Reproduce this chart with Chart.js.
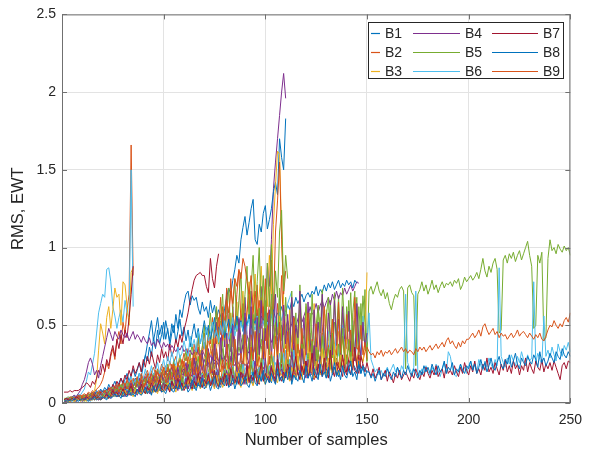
<!DOCTYPE html>
<html><head><meta charset="utf-8">
<script src="https://cdn.jsdelivr.net/npm/chart.js@4.4.1/dist/chart.umd.min.js"></script>
<style>html,body{margin:0;padding:0;background:#fff;}</style>
</head><body>
<canvas id="c" width="591" height="454"></canvas>
<script>
// Axis ticks and titles
const xTicks = [0, 50, 100, 150, 200, 250];
const yTicks = [0, 0.5, 1, 1.5, 2, 2.5];
const xTitle = 'Number of samples';
const yTitle = 'RMS, EWT';
const legendNames = ['B1', 'B2', 'B3', 'B4', 'B5', 'B6', 'B7', 'B8', 'B9'];

// Each series starts at sample 1, one value per sample
const b1 = [.02,.03,.02,.03,.03,.02,.04,.03,.03,.04, .04,.03,.05,.04,.05,.06,.04,.05,.07,.06,
 .05,.07,.06,.08,.07,.06,.09,.08,.10,.09, .08,.11,.10,.13,.11,.16,.14,.19,.17,.24,
 .30,.38,.45,.53,.40,.47,.55,.44,.50,.41, .53,.46,.40,.51,.45,.57,.48,.60,.55,.64,
 .70,.72,.63,.69,.66,.68,.61,.57,.65,.59, .62,.55,.66,.58,.63,.54,.60,.56,.52,.61,
 .68,.74,.70,.79,.86,.95,.90,1.05,1.13,1.20, 1.08,1.16,1.25,1.31,1.05,1.02,1.15,1.10,1.22,1.27,
 1.12,1.18,1.25,1.36,1.42,1.34,1.70,1.58,1.50,1.83];
const b2 = [.02,.03,.02,.03,.04,.03,.04,.05,.04,.05, .06,.05,.07,.06,.08,.07,.09,.10,.12,.15,
 .20,.26,.22,.30,.35,.28,.40,.46,.38,.52, .45,.60,.70,1.66,.82];
const b3 = [.01,.02,.01,.02,.02,.03,.02,.03,.03,.02, .03,.04,.03,.04,.05,.04,.06,.05,.04,.06,
 .05,.07,.06,.08,.06,.09,.07,.10,.08,.11, .09,.12,.10,.08,.13,.11,.14,.10,.15,.12,
 .13,.16,.11,.17,.14,.18,.12,.19,.15,.17, .20,.14,.22,.17,.19,.24,.16,.21,.26,.18,
 .23,.28,.20,.25,.31,.22,.27,.34,.24,.29, .37,.26,.32,.41,.28,.35,.46,.30,.39,.52,
 .33,.44,.58,.36,.49,.65,.40,.55,.72,.45, .60,.78,.48,.66,.83,.52,.70,.88,.56,.75,
 .62,.95,.70,1.15,1.40,1.62,1.60,1.10,.65,.48];
const b4 = [.02,.02,.03,.02,.03,.04,.03,.03,.04,.03, .04,.05,.04,.05,.06,.05,.04,.06,.05,.07,
 .06,.05,.07,.08,.06,.09,.07,.08,.10,.08, .09,.11,.08,.12,.10,.09,.13,.11,.14,.10,
 .12,.15,.11,.14,.17,.12,.16,.13,.18,.15, .13,.19,.16,.14,.21,.17,.15,.22,.18,.20,
 .16,.24,.19,.22,.17,.26,.20,.28,.23,.19, .31,.24,.21,.35,.27,.52,.40,.30,.58,.36,
 .73,.45,.33,.62,.38,.30,.55,.42,.35,.68, .44,.37,.72,.48,.33,.60,.41,.75,.52,.48,
 .90,.75,1.05,1.38,1.55,1.70,1.85,2.00,2.12,1.96];
const b5 = [.03,.03,.04,.03,.04,.04,.03,.05,.04,.04, .05,.04,.05,.06,.05,.04,.06,.05,.07,.06,
 .06,.08,.07,.09,.08,.10,.09,.11,.08,.10, .12,.10,.09,.12,.11,.13,.10,.12,.14,.11,
 .13,.15,.12,.16,.14,.12,.17,.15,.18,.14, .16,.19,.15,.20,.17,.22,.18,.16,.21,.19,
 .23,.18,.25,.20,.22,.27,.21,.24,.30,.22, .26,.31,.24,.28,.22,.33,.27,.25,.35,.28,
 .30,.38,.26,.33,.41,.29,.36,.31,.44,.33, .28,.39,.47,.32,.37,.52,.30,.41,.35,.56,
 .38,.48,.62,.36,.55,.44,.70,.40,.51,.45, .33,.47,.39,.55,.31,.48,.60,.36,.44,.52,
 .34,.58,.41,.29,.50,.63,.37,.45,.32,.57, .40,.66,.30,.52,.43,.69,.35,.58,.28,.62,
 .46,.71,.33,.55,.68,.30,.64,.40,.73,.27, .72,.75,.70,.74,.78,.72,.69,.73,.67,.71,
 .64,.60,.66,.70,.68,.73,.75,.72,.22,.74, .76,.71,.69,.24,.70,.73,.78,.72,.76,.70,
 .74,.79,.73,.76,.71,.75,.78,.74,.77,.76, .78,.75,.79,.77,.80,.73,.76,.81,.78,.80,
 .82,.79,.81,.84,.80,.86,.93,.85,.81,.88, .84,.90,.93,.86,.45,.47,.92,.95,.90,.96,
 .93,.97,.91,.95,.98,.92,.96,1.00,1.04,.95, .88,.48,.50,.95,.90,.97,.40,.42,.93,1.05,
 .98,1.00,.96,1.02,.99,.97,1.01,.98,1.00,.95];
const b6 = [.02,.03,.02,.02,.03,.02,.04,.03,.02,.03, .04,.02,.03,.05,.03,.04,.03,.06,.04,.05,
 .03,.06,.05,.04,.07,.05,.08,.06,.05,.09, .06,.08,.07,.10,.06,.09,.08,.07,.11,.08,
 .10,.07,.12,.09,.11,.08,.13,.10,.09,.14, .11,.10,.15,.12,.09,.13,.16,.11,.12,.10,
 .17,.13,.11,.15,.18,.12,.14,.13,.19,.12, .15,.20,.14,.13,.17,.21,.14,.16,.15,.22,
 .16,.14,.23,.17,.19,.15,.24,.18,.16,.21, .25,.17,.20,.18,.27,.16,.22,.19,.28,.20,
 .24,.30,.19,.22,.26,.21,.32,.23,.20,.34, .24,.28,.22,.36,.25,.23,.31,.38,.24,.27,
 .40,.26,.33,.25,.42,.28,.24,.44,.30,.27, .46,.29,.35,.26,.48,.31,.28,.50,.33,.30,
 .35,.30,.53,.27,.38,.45,.31,.56,.34,.40, .58,.28,.24,.20,.22,.18,.21,.17,.20,.23,
 .19,.22,.25,.20,.23,.18,.24,.21,.70,.26, .22,.19,.23,.72,.20,.17,.22,.19,.24,.20,
 .18,.23,.20,.25,.21,.17,.22,.26,.19,.33, .30,.22,.18,.17,.21,.25,.20,.23,.19,.24,
 .27,.22,.26,.20,.28,.24,.21,.27,.23,.29, .25,.22,.28,.24,.87,.30,.26,.23,.29,.25,
 .31,.27,.24,.30,.26,.33,.28,.25,.31,.27, .29,.78,.26,.32,.28,.25,.56,.30,.34,.29,
 .36,.31,.27,.38,.33,.30,.37,.34,.39,.33];
const b7 = [.01,.02,.02,.01,.03,.02,.02,.03,.02,.04, .02,.03,.02,.04,.03,.05,.03,.02,.04,.03,
 .05,.04,.03,.06,.05,.04,.07,.05,.06,.04, .08,.06,.05,.09,.06,.08,.07,.10,.06,.09,
 .07,.11,.08,.06,.10,.12,.08,.09,.07,.13, .09,.11,.08,.14,.10,.12,.09,.15,.11,.10,
 .13,.09,.16,.11,.14,.10,.12,.17,.11,.13, .10,.18,.12,.15,.11,.14,.19,.12,.13,.16,
 .11,.20,.14,.12,.17,.13,.21,.15,.12,.18, .14,.22,.13,.16,.19,.14,.12,.23,.15,.17,
 .20,.14,.24,.16,.13,.19,.17,.25,.15,.18, .22,.16,.14,.26,.17,.20,.15,.23,.18,.27,
 .16,.21,.19,.15,.28,.18,.22,.17,.25,.20, .16,.29,.19,.23,.18,.26,.21,.17,.30,.20,
 .24,.18,.27,.21,.19,.31,.22,.25,.20,.26, .20,.17,.22,.16,.19,.23,.15,.18,.21,.14,
 .20,.17,.13,.19,.16,.21,.15,.18,.20,.17, .14,.19,.16,.22,.18,.15,.20,.17,.23,.19,
 .16,.21,.18,.24,.17,.20,.22,.16,.25,.19, .21,.18,.24,.20,.17,.23,.19,.26,.21,.18,
 .24,.20,.27,.19,.22,.18,.25,.21,.29,.20, .23,.19,.26,.22,.18,.25,.21,.28,.20,.24,
 .19,.27,.22,.25,.18,.24,.21,.29,.20,.26, .22,.19,.27,.23,.21,.28,.20,.25,.22,.26,
 .21,.27,.23,.19,.15,.24,.26,.22,.27,.26];
const b8 = [.02,.01,.03,.02,.02,.03,.01,.02,.04,.02, .03,.05,.02,.04,.03,.02,.05,.04,.03,.06,
 .04,.03,.05,.07,.04,.06,.05,.08,.05,.04, .07,.06,.09,.05,.07,.10,.06,.08,.07,.11,
 .08,.06,.10,.09,.12,.07,.09,.13,.08,.10, .14,.09,.11,.08,.12,.15,.10,.09,.13,.11,
 .16,.10,.12,.14,.09,.17,.11,.13,.10,.15, .12,.18,.11,.14,.13,.19,.12,.10,.16,.14,
 .20,.13,.11,.17,.15,.12,.21,.14,.16,.13, .18,.22,.15,.12,.19,.16,.23,.14,.17,.15,
 .24,.16,.13,.20,.18,.25,.15,.17,.14,.22, .19,.26,.16,.18,.15,.23,.20,.17,.27,.19,
 .16,.24,.21,.18,.28,.17,.22,.19,.25,.16, .21,.29,.18,.23,.20,.17,.26,.22,.19,.30,
 .21,.18,.25,.23,.20,.27,.19,.24,.22,.20, .20,.16,.19,.14,.18,.21,.15,.19,.17,.22,
 .18,.15,.20,.17,.23,.19,.16,.21,.18,.24, .20,.17,.22,.19,.16,.21,.18,.24,.20,.23,
 .19,.25,.21,.18,.24,.20,.22,.27,.19,.23, .21,.26,.18,.22,.20,.25,.21,.19,.24,.22,
 .27,.21,.25,.19,.23,.28,.22,.26,.20,.24, .29,.23,.21,.26,.30,.24,.22,.28,.25,.31,
 .23,.27,.32,.25,.22,.29,.26,.24,.30,.27, .25,.31,.28,.23,.33,.26,.29,.24,.27,.32,
 .29,.26,.33,.30,.28,.35,.31,.29,.33,.30];
const b9 = [.02,.03,.02,.02,.04,.03,.02,.03,.05,.03, .04,.02,.03,.05,.04,.03,.06,.04,.05,.03,
 .06,.04,.07,.05,.09,.06,.05,.08,.06,.10, .07,.05,.09,.12,.07,.08,.06,.11,.09,.07,
 .13,.08,.10,.07,.12,.15,.09,.11,.08,.14, .10,.16,.09,.12,.11,.18,.10,.13,.17,.11,
 .14,.10,.19,.13,.12,.16,.21,.12,.15,.13, .18,.14,.22,.12,.17,.15,.20,.13,.24,.16,
 .14,.19,.17,.25,.15,.18,.16,.22,.27,.17, .20,.15,.24,.19,.17,.28,.18,.21,.16,.26,
 .19,.30,.18,.22,.20,.25,.17,.29,.21,.19, .32,.20,.24,.18,.27,.22,.34,.21,.19,.26,
 .23,.30,.20,.25,.36,.22,.28,.24,.21,.33, .26,.22,.38,.25,.29,.23,.35,.27,.24,.31,
 .28,.40,.26,.30,.25,.37,.29,.27,.33,.36, .33,.31,.32,.29,.33,.31,.34,.30,.33,.32,
 .34,.31,.33,.35,.32,.34,.36,.33,.35,.32, .34,.33,.31,.35,.33,.36,.34,.36,.33,.35,
 .37,.34,.36,.38,.35,.37,.39,.36,.40,.42, .38,.40,.37,.35,.39,.36,.40,.38,.41,.41,
 .43,.45,.42,.44,.47,.43,.49,.51,.47,.44, .46,.48,.44,.46,.42,.45,.43,.44,.41,.43,
 .45,.42,.44,.47,.43,.45,.46,.44,.42,.45, .43,.41,.44,.42,.45,.41,.40,.43,.47,.50,
 .49,.53,.50,.48,.51,.49,.53,.55,.52,.58];

// Unlabelled runs
const runA = [.02,.02,.03,.02,.04,.03,.03,.05,.04,.03, .05,.04,.06,.05,.07,.05,.08,.06,.09,.07,
 .10,.08,.12,.09,.11,.14,.10,.13,.16,.12, .15,.19,.14,.18,.22,.17,.21,.26,.20,.25,
 .31,.27,.36,.30,.42,.35,.47,.38,.44,.52, .41,.48,.37,.45,.50,.39,.46,.54,.43,.49,
 .40,.47,.36,.44,.51,.42,.48,.38,.45,.53, .44,.50,.41,.47,.55,.43,.49,.46,.52,.42,
 .48,.54,.45,.51,.47,.56,.49,.53,.46,.55, .50,.57,.48,.54,.51,.58,.49,.56,.53,.59,
 .52,.57,.55,.60,.54,.58,.56,.62,.57,.59, .63,.60,.66,.62,.68,.64,.67,.70,.65,.69,
 .71,.68,.72,.70,.75,.69,.73,.71,.76,.72, .77,.74,.78,.73,.76,.79,.74,.77,.75,.79,
 .76,.78,.74,.79,.77];
const runB = [.01,.02,.02,.03,.02,.03,.04,.02,.04,.03, .04,.05,.03,.06,.05,.07,.05,.06,.08,.06,
 .07,.09,.07,.10,.08,.11,.09,.12,.10,.13, .11,.09,.14,.12,.10,.15,.13,.16,.11,.14,
 .17,.13,.15,.19,.14,.17,.20,.16,.18,.15, .21,.17,.19,.23,.18,.21,.17,.24,.20,.22,
 .19,.25,.21,.23,.20,.27,.22,.25,.21,.28, .24,.26,.23,.30,.25,.27,.24,.31,.26,.29,
 .33,.27,.30,.28,.35,.29,.32,.30,.37,.31, .34,.32,.39,.33,.36,.34,.41,.35,.38,.43,
 .37,.45,.39,.42,.48,.40,.46,.50,.44,.48, .53,.47,.51,.56,.49,.54,.58,.52,.56,.60,
 .55,.62,.57,.59,.64,.58,.63,.66,.61,.65, .68,.63,.70,.66,.72,.67,.71,.69,.74,.70,
 .73,.76,.72,.75,.78,.77];
const runC = [.02,.03,.03,.04,.03,.05,.04,.06,.05,.07, .09,.14,.20,.18,.25,.32,.45,.58,.64,.70,
 .68,.86,.87,.78,.62,.56,.48,.55,.60,.52, .66,.58,.55,1.50,.62];
const runD = [.01,.02,.02,.01,.02,.03,.02,.03,.02,.03, .04,.03,.05,.04,.06,.08,.15,.34,.51,.45,
 .38,.55,.62,.48,.60,.74,.68,.70,.50,.78, .76,.62,.50,.84,.87];
const runE = [.07,.07,.07,.08,.07,.08,.08,.08,.09,.10, .11,.13,.12,.10,.14,.12,.16,.21,.18,.25,
 .20,.28,.24,.32,.37,.30,.41,.35,.44,.38, .47,.42,.55,.70,.88];
const runF = [.02,.03,.02,.03,.04,.05,.04,.06,.08,.12, .15,.20,.26,.29,.25,.18,.21,.16,.24,.30,
 .36,.42,.48,.44,.40,.46,.43,.41,.47,.44, .42,.45,.40,.43,.46,.41,.44,.42,.39,.43,
 .40,.38,.42,.37,.39,.36,.41,.38,.35,.39, .36,.38,.34,.37,.35,.33,.36,.34,.37,.33,
 .35,.32,.34,.31,.33,.36,.32,.30,.34,.31, .29,.33,.30,.28,.32,.29,.27,.31,.28,.30,
 .27,.25,.29,.26,.24,.28,.25,.23,.27,.24, .26,.22,.25,.21,.24,.20,.23,.26,.22,.25];
const runG = [.01,.02,.02,.01,.02,.03,.02,.02,.03,.02, .03,.04,.03,.05,.04,.06,.05,.04,.07,.06,
 .08,.06,.10,.08,.12,.09,.14,.11,.16,.13, .18,.15,.21,.17,.24,.19,.22,.26,.20,.28,
 .23,.30,.25,.33,.27,.22,.31,.26,.35,.29, .33,.27,.38,.30,.34,.41,.36,.44,.39,.47,
 .52,.58,.66,.73,.79,.82,.83,.84,.82,.82, .75,.71,.93,.80,.74,.88,.96];
const runH = [.02,.02,.03,.03,.02,.04,.03,.04,.05,.04, .05,.04,.06,.05,.07,.06,.05,.08,.07,.06,
 .08,.07,.09,.10,.08,.11,.09,.12,.10,.13, .11,.14,.12,.10,.15,.13,.16,.12,.17,.14,
 .15,.18,.13,.19,.16,.14,.20,.17,.22,.18, .16,.23,.19,.25,.20,.17,.26,.21,.28,.23,
 .19,.30,.25,.22,.33,.27,.36,.24,.31,.39, .28,.42,.35,.30,.47,.38,.55,.44,.62,.50,
 .66,.58,.72,.64,.80,.75,.86,.80,.93,.88, .78,.70,.82,.60,.72,.55,.66,.48,.62,.40,
 .58,.45,.70,.52,.38,.64,.50,.82,.45,.35, .42,.30];
const runI = [.01,.02,.01,.03,.02,.02,.03,.02,.04,.03, .02,.04,.03,.05,.04,.03,.06,.05,.04,.07,
 .05,.08,.06,.10,.07,.09,.12,.08,.11,.09, .14,.10,.13,.17,.12,.15,.11,.19,.14,.16,
 .22,.15,.18,.24,.17,.21,.26,.19,.23,.28, .21,.30,.25,.33,.27,.24,.36,.29,.32,.40,
 .34,.30,.43,.36,.41,.33,.46,.38,.44,.35, .49,.40,.45,.52,.42,.47,.39,.50,.44,.53,
 .46,.41,.48,.55,.43,.50,.45,.52,.47,.42, .49,.54,.44,.51,.47,.56,.45,.50,.53,.46,
 .52,.48,.57,.50,.55,.49,.58,.53,.60,.56, .64,.68,.72];
const runJ = [.02,.01,.02,.03,.02,.02,.03,.04,.03,.02, .04,.03,.05,.04,.03,.05,.06,.04,.07,.05,
 .06,.08,.05,.09,.07,.10,.06,.11,.08,.12, .09,.13,.10,.08,.14,.11,.15,.12,.10,.16,
 .13,.18,.11,.15,.19,.14,.21,.16,.13,.22, .18,.25,.15,.20,.28,.17,.24,.31,.19,.26,
 .34,.22,.29,.38,.25,.33,.45,.27,.36,.50, .30,.42,.58,.35,.47,.62,.38,.53,.70,.41,
 .57,.74,.44,.61,.80,.46,.66,.84,.49,.70, .88,.52,.74,.95,.55,.78,1.00,.58,.82,.45,
 .90,.62,1.02,.50,.85,.68,1.10,1.24,.72,.95, .80];
const runK = [.01,.01,.02,.01,.02,.02,.01,.03,.02,.02, .03,.02,.03,.04,.03,.02,.04,.03,.05,.04,
 .03,.05,.04,.06,.05,.04,.07,.05,.08,.06, .05,.09,.06,.08,.05,.10,.07,.06,.11,.08,
 .07,.12,.09,.07,.13,.10,.08,.14,.09,.12, .10,.15,.08,.11,.16,.09,.13,.10,.18,.12,
 .11,.20,.13,.10,.16,.22,.12,.14,.11,.24, .15,.12,.19,.26,.13,.17,.14,.28,.16,.13,
 .22,.30,.15,.18,.14,.33,.17,.21,.15,.36, .19,.16,.40,.23,.18,.44,.20,.17,.48,.25,
 .19,.52,.28,.20,.45,.24,.56,.30,.21,.50, .27,.60,.32,.22,.48,.26,.58,.34,.24,.62,
 .30,.45,.26,.64,.36,.28,.55,.33,.25,.60, .38,.26,.52,.35,.30,.46,.28,.41,.33,.25,
 .38,.29,.23,.35,.27,.22,.31,.26,.40,.84];
const runM = [.02,.03,.02,.03,.04,.03,.02,.04,.03,.05, .04,.03,.05,.04,.06,.05,.07,.05,.06,.08,
 .06,.09,.07,.10,.08,.11,.09,.12,.10,.14, .11,.15,.12,.10,.16,.13,.17,.14,.19,.15,
 .18,.21,.16,.20,.23,.18,.22,.19,.25,.21, .24,.20,.27,.22,.26,.30,.23,.28,.25,.32,
 .27,.35,.29,.24,.38,.31,.42,.26,.36,.45, .32,.48,.38,.55,.34,.60,.44,.68,.40,.52,
 .74,.46,.80,.58,.48,.70,.85,.52,.64,.44, .58,.72,.38,.62,.50,.76,.42,.68,.55,.80,
 .48,.66,.92,.60,1.10,1.30,1.55,1.05,.70,.85];
const lowA = [.01,.02,.01,.02,.01,.03,.02,.01,.02,.02, .03,.02,.01,.03,.02,.04,.02,.03,.02,.04,
 .03,.02,.05,.03,.04,.06,.04,.05,.03,.07, .05,.04,.08,.05,.06,.04,.09,.06,.05,.07,
 .10,.06,.08,.05,.11,.07,.09,.12,.07,.08, .06,.10,.13,.08,.07,.11,.09,.14,.08,.10,
 .12,.07,.09,.15,.11,.08,.13,.10,.16,.09, .11,.14,.08,.12,.17,.10,.09,.15,.13,.11,
 .18,.10,.12,.16,.09,.14,.19,.11,.13,.17, .12,.10,.15,.20,.13,.11,.18,.14,.21,.12,
 .16,.13,.19,.15,.12,.22,.14,.17,.13,.20, .15,.23,.12,.18,.16,.14,.21,.17,.13,.24,
 .16,.19,.14,.22,.18,.15,.25,.17,.20,.16, .23,.14,.19,.26,.17,.21,.15,.24,.18,.16,
 .22,.27,.17,.20,.15,.25,.19,.23,.17,.21];
const lowB = [.02,.03,.02,.02,.03,.02,.04,.03,.02,.03, .02,.04,.03,.02,.03,.05,.03,.04,.02,.03,
 .04,.06,.03,.05,.08,.05,.07,.04,.06,.09, .06,.05,.08,.11,.07,.06,.09,.07,.12,.08,
 .06,.10,.08,.13,.09,.07,.11,.15,.09,.08, .12,.10,.07,.14,.11,.09,.16,.10,.13,.08,
 .11,.17,.12,.09,.14,.11,.19,.13,.10,.15, .12,.18,.11,.14,.21,.13,.10,.16,.12,.19,
 .14,.11,.22,.15,.13,.17,.12,.20,.16,.14, .24,.13,.18,.15,.21,.12,.17,.26,.14,.19,
 .16,.13,.23,.18,.15,.28,.17,.14,.20,.16, .25,.19,.15,.22,.30,.18,.16,.24,.19,.27,
 .17,.21,.32,.19,.16,.25,.20,.18,.29,.22, .19,.34,.21,.17,.26,.23,.20,.31,.22,.18,
 .28,.24,.21,.36,.23,.19,.30,.25];
const lowC = [.01,.02,.01,.01,.02,.01,.02,.03,.01,.02, .02,.01,.03,.02,.02,.03,.02,.04,.02,.03,
 .05,.04,.03,.06,.04,.05,.07,.04,.06,.05, .08,.05,.07,.06,.04,.09,.06,.08,.05,.10,
 .07,.06,.09,.11,.07,.08,.06,.12,.09,.07, .10,.13,.08,.09,.11,.07,.14,.10,.08,.12,
 .09,.15,.11,.08,.13,.10,.16,.09,.12,.14, .10,.17,.11,.13,.09,.18,.12,.15,.10,.13,
 .19,.11,.14,.16,.12,.20,.13,.10,.17,.15, .12,.22,.14,.11,.18,.16,.13,.24,.15,.12,
 .19,.17,.14,.26,.16,.13,.21,.18,.15,.28, .17,.14,.23,.19,.16,.30,.18,.15,.25,.20,
 .17,.33,.19,.16,.27,.21,.18,.35,.20,.17, .29,.22,.19,.38,.21,.18,.31,.24,.20,.41];
const lowD = [.01,.01,.02,.01,.02,.02,.01,.03,.02,.01, .02,.03,.02,.02,.04,.02,.03,.02,.03,.04,
 .03,.05,.04,.03,.06,.05,.04,.07,.05,.06, .04,.08,.06,.05,.09,.07,.05,.10,.06,.08,
 .07,.11,.06,.09,.08,.12,.07,.10,.09,.13, .08,.11,.10,.14,.09,.12,.08,.15,.11,.10,
 .16,.09,.13,.11,.17,.10,.14,.12,.18,.11, .13,.19,.12,.15,.10,.20,.14,.12,.17,.13,
 .21,.15,.11,.18,.14,.23,.13,.16,.19,.12, .25,.15,.18,.14,.27,.17,.13,.21,.16,.29,
 .15,.19,.24,.17,.14,.31,.18,.22,.16,.26, .19,.15,.33,.20,.17,.24,.18,.35,.21,.16,
 .28,.20,.18,.37,.22,.19,.30,.23,.20,.26];
const lowE = [.02,.01,.02,.03,.02,.01,.02,.02,.03,.02, .01,.03,.02,.04,.03,.02,.04,.03,.02,.05,
 .03,.04,.06,.04,.07,.05,.04,.06,.08,.05, .07,.06,.09,.05,.08,.10,.06,.07,.11,.08,
 .06,.09,.12,.08,.07,.13,.10,.08,.11,.14, .09,.12,.10,.15,.09,.11,.13,.10,.16,.12,
 .10,.14,.17,.11,.13,.10,.18,.12,.15,.11, .19,.13,.12,.16,.20,.14,.11,.17,.13,.21,
 .15,.12,.18,.23,.14,.16,.13,.25,.17,.15, .20,.14,.27,.18,.16,.22,.15,.29,.19,.17,
 .24,.16,.31,.20,.18,.26,.17,.33,.21,.19, .28,.18,.35,.22,.20,.30,.19,.38,.24,.21,
 .32,.20,.40,.25,.22,.34,.21,.43,.26,.23, .36,.22,.45,.27,.24,.38,.23,.48,.28,.25,
 .41,.24,.50,.30,.27];
const lowF = [.01,.02,.01,.02,.02,.03,.01,.02,.03,.02, .02,.03,.02,.01,.03,.04,.02,.03,.05,.03,
 .04,.06,.03,.05,.07,.04,.06,.05,.08,.06, .05,.09,.06,.07,.05,.10,.07,.06,.11,.08,
 .07,.12,.08,.10,.07,.13,.09,.08,.11,.14, .09,.12,.10,.15,.11,.09,.16,.12,.10,.14,
 .17,.11,.13,.10,.18,.12,.15,.11,.19,.13, .12,.20,.14,.16,.12,.21,.15,.13,.18,.22,
 .14,.16,.13,.24,.17,.15,.19,.14,.25,.18, .16,.21,.15,.27,.19,.17,.23,.16,.28,.20,
 .18,.24,.17,.30,.21,.19,.26,.18,.32,.22, .20,.28,.19,.34,.23];
const midA = [.02,.03,.02,.04,.03,.02,.03,.05,.03,.04, .03,.05,.04,.03,.06,.04,.05,.07,.04,.06,
 .08,.05,.07,.10,.06,.09,.12,.07,.10,.08, .13,.09,.11,.15,.10,.08,.14,.12,.17,.10,
 .13,.19,.11,.15,.12,.21,.14,.11,.18,.23, .13,.16,.20,.12,.25,.15,.18,.14,.22,.27,
 .16,.20,.15,.29,.18,.23,.17,.31,.20,.16, .26,.33,.19,.22,.18,.35,.24,.20,.28,.17,
 .38,.22,.26,.19,.41,.25,.21,.32,.23,.44, .26,.20,.36,.28,.46,.24,.30,.22,.40,.27,
 .49,.25,.33,.23,.43,.29,.52,.26,.35,.24, .46,.31,.28,.55,.27,.38,.30,.48,.25,.34,
 .58,.29,.41,.27,.51,.33,.26,.45,.62,.30, .37,.28,.54,.35,.31,.65,.32,.43,.29,.57,
 .34,.47,.30,.68,.36,.33,.50,.31,.39,.28];
const midB = [.01,.02,.03,.02,.02,.03,.02,.04,.03,.02, .03,.04,.03,.05,.04,.03,.05,.04,.06,.05,
 .04,.07,.05,.06,.09,.06,.08,.07,.10,.08, .11,.07,.09,.13,.08,.10,.12,.09,.15,.11,
 .09,.14,.12,.10,.17,.13,.11,.16,.19,.12, .15,.13,.21,.14,.18,.12,.23,.16,.14,.20,
 .26,.15,.19,.17,.29,.16,.22,.18,.32,.20, .17,.35,.21,.19,.38,.23,.18,.42,.25,.21,
 .45,.24,.20,.50,.27,.22,.54,.26,.23,.58, .30,.25,.62,.28,.24,.55,.31,.66,.27,.48,
 .35,.60,.29,.52,.70,.33,.45,.28,.63,.38, .57,.32,.68,.30,.50,.42,.72,.34,.55,.31,
 .65,.40,.29,.60,.36,.52,.33,.70,.39,.28, .58,.44,.31,.66,.37,.54,.30,.62,.41,.35,
 .59,.33,.48,.27,.64,.39,.30,.52,.36,.45];
const midC = [.02,.03,.02,.03,.04,.02,.03,.02,.04,.03, .05,.03,.04,.06,.03,.05,.04,.07,.05,.04,
 .06,.08,.05,.07,.10,.06,.09,.07,.12,.08, .06,.10,.13,.08,.11,.09,.15,.10,.08,.12,
 .16,.11,.09,.14,.18,.12,.10,.15,.20,.13, .11,.17,.22,.14,.12,.19,.15,.24,.13,.17,
 .21,.15,.27,.18,.14,.23,.30,.17,.20,.16, .33,.19,.25,.18,.36,.22,.17,.29,.40,.21,
 .26,.19,.44,.24,.33,.21,.48,.28,.23,.52, .30,.42,.25,.57,.33,.26,.61,.37,.28,.66,
 .40,.31,.70,.35,.52,.29,.74,.42,.33,.68, .46,.30,.72,.38,.58,.32,.76,.44,.35,.64,
 .50,.31,.70,.40,.27,.62,.45,.73,.34,.56, .68,.36,.29,.71,.43,.60,.33,.74,.48,.38,
 .66,.30,.58,.72,.35,.62,.41,.69,.52,.26];

// MATLAB default colour order
const palette = ['#0072BD', '#D95319', '#EDB120', '#7E2F8E', '#77AC30', '#4DBEEE', '#A2142F'];

// [values, palette index, legend label or null]
const runs = [
  [lowA, 0, null], [lowB, 6, null], [lowC, 2, null], [lowD, 3, null], [lowE, 4, null],
  [lowF, 5, null], [midA, 1, null], [midB, 3, null], [midC, 4, null],
  [runK, 2, null], [runI, 5, null], [runF, 3, null], [runH, 1, null], [runG, 6, null],
  [runE, 6, null], [runD, 2, null], [runC, 5, null], [runA, 0, null], [runB, 3, null],
  [runJ, 4, null], [runM, 1, null],
  [b9, 1, legendNames[8]], [b8, 0, legendNames[7]], [b7, 6, legendNames[6]],
  [b6, 5, legendNames[5]], [b5, 4, legendNames[4]],
  [b3, 2, legendNames[2]], [b2, 1, legendNames[1]], [b1, 0, legendNames[0]], [b4, 3, legendNames[3]]
];

const datasets = runs.map(([vals, ci, label]) => ({
  label: label || '',
  data: vals.map((v, i) => ({ x: i + 1, y: v })),
  borderColor: palette[ci],
  backgroundColor: palette[ci],
  borderWidth: 1,
  pointRadius: 0,
  tension: 0,
  fill: false
}));

const FONT = '"Liberation Sans", Arial, Helvetica, sans-serif';
const TEXT = '#262626';

// Box, inward ticks and the three-column legend
const framePlugin = {
  id: 'frame',
  afterDraw(chart) {
    const { ctx, chartArea: a, scales } = chart;
    ctx.save();
    ctx.strokeStyle = '#707070';
    ctx.lineWidth = 1;
    ctx.strokeRect(a.left + 0.5, a.top + 0.5, a.right - a.left - 1, a.bottom - a.top - 1);
    const tl = 5;
    ctx.beginPath();
    xTicks.forEach(v => {
      const px = Math.round(scales.x.getPixelForValue(v)) + 0.5;
      ctx.moveTo(px, a.bottom); ctx.lineTo(px, a.bottom - tl);
      ctx.moveTo(px, a.top); ctx.lineTo(px, a.top + tl);
    });
    yTicks.forEach(v => {
      const py = Math.round(scales.y.getPixelForValue(v)) + 0.5;
      ctx.moveTo(a.left, py); ctx.lineTo(a.left + tl, py);
      ctx.moveTo(a.right, py); ctx.lineTo(a.right - tl, py);
    });
    ctx.stroke();

    // legend
    const box = { left: 368, top: 22, right: 564, bottom: 79 };
    ctx.fillStyle = '#ffffff';
    ctx.fillRect(box.left, box.top, box.right - box.left, box.bottom - box.top);
    ctx.strokeStyle = '#262626';
    ctx.strokeRect(box.left + 0.5, box.top + 0.5, box.right - box.left - 1, box.bottom - box.top - 1);
    ctx.font = '14px ' + FONT;
    ctx.textBaseline = 'middle';
    ctx.textAlign = 'left';
    const lineSpans = [[371, 380], [413, 460], [492, 538]];
    const rowY = [33, 52, 71];
    legendNames.forEach((name, i) => {
      const ds = chart.data.datasets.find(d => d.label === name);
      const c = Math.floor(i / 3), r = i % 3;
      const [x0, x1] = lineSpans[c];
      const y0 = rowY[r] + 0.5;
      ctx.strokeStyle = ds.borderColor;
      ctx.lineWidth = 1.2;
      ctx.beginPath(); ctx.moveTo(x0, y0); ctx.lineTo(x1, y0); ctx.stroke();
      ctx.fillStyle = TEXT;
      ctx.fillText(name, x1 + 5, rowY[r] + 1);
    });
    ctx.restore();
  }
};

new Chart(document.getElementById('c'), {
  type: 'line',
  data: { datasets },
  options: {
    responsive: false,
    animation: false,
    devicePixelRatio: 1,
    layout: { padding: { left: 0, top: 10, right: 13, bottom: 0 } },
    plugins: { legend: { display: false }, tooltip: { enabled: false } },
    scales: {
      x: {
        type: 'linear', min: 0, max: 250,
        afterBuildTicks: s => { s.ticks = xTicks.map(v => ({ value: v })); },
        afterFit: s => { s.height = 51; },
        grid: { color: '#e3e3e3', drawTicks: false },
        border: { display: false },
        ticks: { color: TEXT, font: { family: FONT, size: 14 }, padding: 9, maxRotation: 0,
                 callback: v => String(v) },
        title: { display: true, text: xTitle, color: TEXT, font: { family: FONT, size: 16.5 },
                 padding: { top: 0, bottom: 4 } }
      },
      y: {
        type: 'linear', min: 0, max: 2.5,
        afterBuildTicks: s => { s.ticks = yTicks.map(v => ({ value: v })); },
        afterFit: s => { s.width = 62; },
        grid: { color: '#e3e3e3', drawTicks: false },
        border: { display: false },
        ticks: { color: TEXT, font: { family: FONT, size: 14 }, padding: 6,
                 callback: v => String(v) },
        title: { display: true, text: yTitle, color: TEXT, font: { family: FONT, size: 16.5 },
                 padding: { top: 9, bottom: 0 } }
      }
    }
  },
  plugins: [framePlugin]
});
</script>
</body></html>
